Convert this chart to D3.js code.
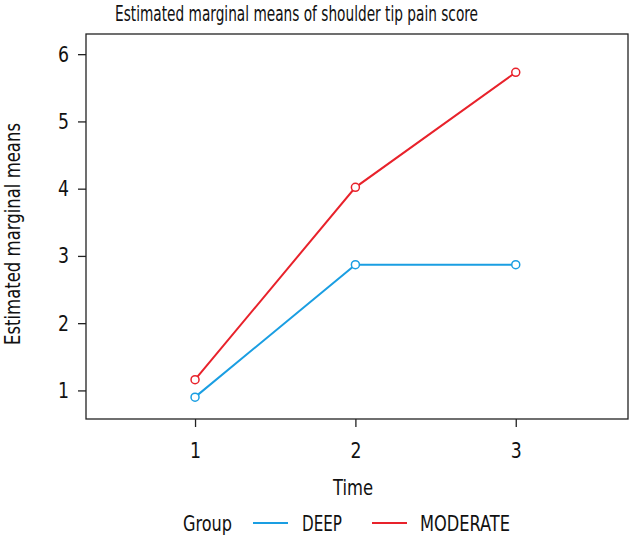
<!DOCTYPE html>
<html><head><meta charset="utf-8">
<script src="https://cdn.jsdelivr.net/npm/d3@7"></script>
<style>
body{margin:0;background:#fff;}
text{font-family:"DejaVu Sans Condensed","Liberation Sans Narrow",sans-serif;font-stretch:condensed;fill:#111;}
</style></head>
<body>
<svg id="c" width="630" height="537"></svg>
<script>
const times = [1, 2, 3];
const groups = ["DEEP", "MODERATE"];
const deepValues = [0.90, 2.87, 2.87];
const moderateValues = [1.16, 4.02, 5.73];
const yTicks = [1, 2, 3, 4, 5, 6];
const colors = {DEEP: "#1a9ee2", MODERATE: "#e8222b"};

const series = [
  {name: "DEEP", values: deepValues},
  {name: "MODERATE", values: moderateValues}
];

const svg = d3.select("#c");
const L = 86, R = 628, T = 34, B = 419;
const x = d3.scaleLinear().domain([0.32, 3.7]).range([L, R]);
const y = d3.scaleLinear().domain([0.575, 6.3]).range([B, T]);

svg.append("rect").attr("x", L).attr("y", T).attr("width", R - L).attr("height", B - T)
  .attr("fill", "none").attr("stroke", "#222").attr("stroke-width", 1.3);

const yAxis = svg.append("g").attr("transform", `translate(${L},0)`)
  .call(d3.axisLeft(y).tickValues(yTicks).tickSize(8).tickPadding(9).tickFormat(d3.format("d")));
const xAxis = svg.append("g").attr("transform", `translate(0,${B})`)
  .call(d3.axisBottom(x).tickValues(times).tickSize(8).tickPadding(15).tickFormat(d3.format("d")));
[yAxis, xAxis].forEach(a => {
  a.select(".domain").remove();
  a.selectAll(".tick line").attr("stroke", "#222").attr("stroke-width", 1.3);
  a.selectAll(".tick text").style("font-size", "22px").attr("fill", "#111")
    .attr("textLength", 11).attr("lengthAdjust", "spacingAndGlyphs");
});

const line = d3.line().x((d, i) => x(times[i])).y(d => y(d));
series.forEach(s => {
  svg.append("path").datum(s.values).attr("d", line).attr("fill", "none")
    .attr("stroke", colors[s.name]).attr("stroke-width", 2);
  svg.selectAll(null).data(s.values).enter().append("circle")
    .attr("cx", (d, i) => x(times[i])).attr("cy", d => y(d)).attr("r", 4)
    .attr("fill", "#fff").attr("stroke", colors[s.name]).attr("stroke-width", 1.5);
});

function fit(sel, len){ return sel.attr("textLength", len).attr("lengthAdjust", "spacingAndGlyphs"); }

fit(svg.append("text").attr("x", 115).attr("y", 21)
  .style("font-size", "21px").text("Estimated marginal means of shoulder tip pain score"), 363);
fit(svg.append("text").attr("x", 333).attr("y", 495)
  .style("font-size", "21px").text("Time"), 40);
fit(svg.append("text").attr("transform", "translate(20,345) rotate(-90)")
  .style("font-size", "21px").text("Estimated marginal means"), 222);

const lg = svg.append("g");
fit(lg.append("text").attr("x", 183).attr("y", 531).style("font-size", "21px").text("Group"), 49);
const legX = [{lx: 253, tx: 302, w: 40}, {lx: 372, tx: 420, w: 90}];
groups.forEach((g, i) => {
  lg.append("line").attr("x1", legX[i].lx).attr("x2", legX[i].lx + 35).attr("y1", 523).attr("y2", 523)
    .attr("stroke", colors[g]).attr("stroke-width", 2);
  fit(lg.append("text").attr("x", legX[i].tx).attr("y", 531).style("font-size", "21px").text(g), legX[i].w);
});
</script>
</body></html>
